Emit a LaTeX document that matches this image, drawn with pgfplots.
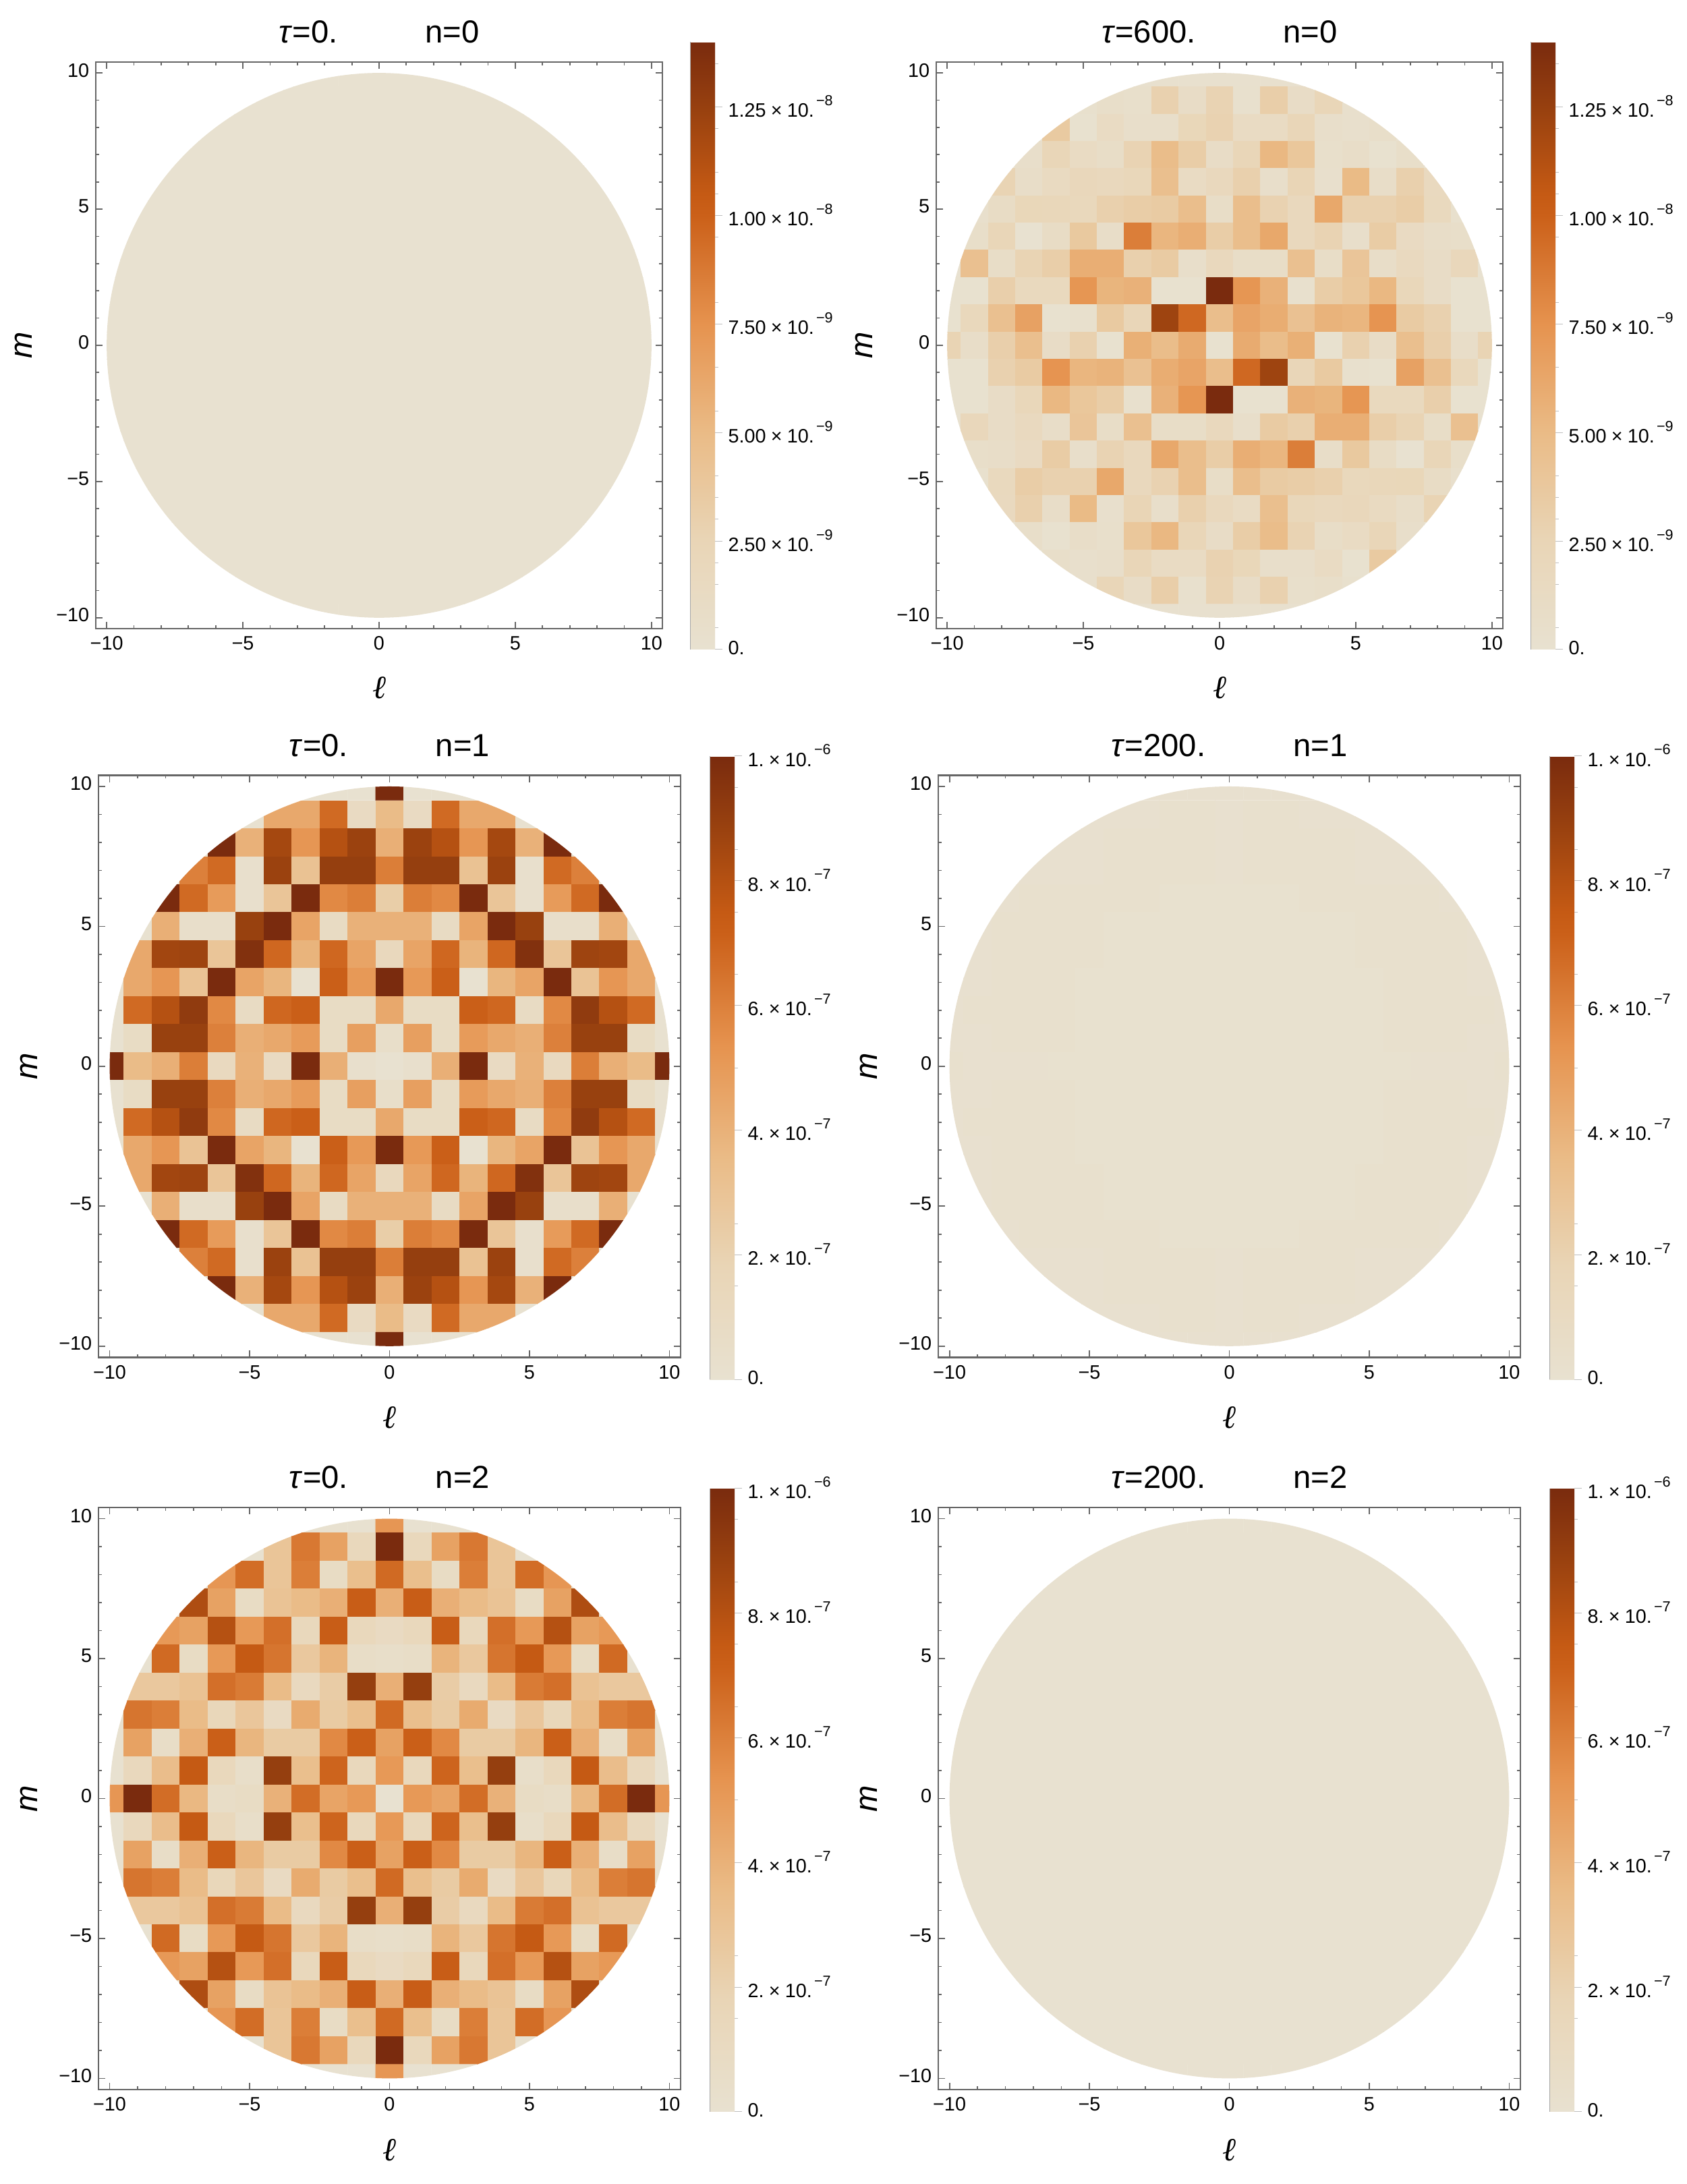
\documentclass[border=0pt]{standalone}
\usepackage{pgfplots}
\usepackage{pgfplotstable}
\usepackage{fontspec}
\setmainfont{Liberation Sans}
\newfontfamily\ser{Liberation Serif}
\pgfplotsset{compat=1.18}
\pgfplotsset{colormap={bro}{rgb255(0cm)=(232,225,208); rgb255(18cm)=(233,213,182); rgb255(35.7cm)=(234,187,134); rgb255(53.5cm)=(230,147,79); rgb255(71.4cm)=(203,96,25); rgb255(75cm)=(197,90,20); rgb255(89.3cm)=(151,64,15); rgb255(100cm)=(122,43,14)}}
\newcommand\ct[2]{#1\hspace{1.8pt}×\hspace{1.8pt}10.\hspace{.8pt}\raisebox{4.3pt}{\fontsize{5.4}{6}\selectfont −#2}}
\newcommand\zr{\raisebox{2pt}{0.}}
\pgfplotstableread[row sep=\\]{v\\
0\\0\\0\\0\\0\\0\\0\\0\\0\\0\\0\\0\\0\\0\\0\\0\\0\\0\\0\\0\\0\\
0\\0\\0\\0\\0\\0\\0\\0\\0\\0\\0\\0\\0\\0\\0\\0\\0\\0\\0\\0\\0\\
0\\0\\0\\0\\0\\0\\0\\0\\0\\0\\0\\0\\0\\0\\0\\0\\0\\0\\0\\0\\0\\
0\\0\\0\\0\\0\\0\\0\\0\\0\\0\\0\\0\\0\\0\\0\\0\\0\\0\\0\\0\\0\\
0\\0\\0\\0\\0\\0\\0\\0\\0\\0\\0\\0\\0\\0\\0\\0\\0\\0\\0\\0\\0\\
0\\0\\0\\0\\0\\0\\0\\0\\0\\0\\0\\0\\0\\0\\0\\0\\0\\0\\0\\0\\0\\
0\\0\\0\\0\\0\\0\\0\\0\\0\\0\\0\\0\\0\\0\\0\\0\\0\\0\\0\\0\\0\\
0\\0\\0\\0\\0\\0\\0\\0\\0\\0\\0\\0\\0\\0\\0\\0\\0\\0\\0\\0\\0\\
0\\0\\0\\0\\0\\0\\0\\0\\0\\0\\0\\0\\0\\0\\0\\0\\0\\0\\0\\0\\0\\
0\\0\\0\\0\\0\\0\\0\\0\\0\\0\\0\\0\\0\\0\\0\\0\\0\\0\\0\\0\\0\\
0\\0\\0\\0\\0\\0\\0\\0\\0\\0\\0\\0\\0\\0\\0\\0\\0\\0\\0\\0\\0\\
0\\0\\0\\0\\0\\0\\0\\0\\0\\0\\0\\0\\0\\0\\0\\0\\0\\0\\0\\0\\0\\
0\\0\\0\\0\\0\\0\\0\\0\\0\\0\\0\\0\\0\\0\\0\\0\\0\\0\\0\\0\\0\\
0\\0\\0\\0\\0\\0\\0\\0\\0\\0\\0\\0\\0\\0\\0\\0\\0\\0\\0\\0\\0\\
0\\0\\0\\0\\0\\0\\0\\0\\0\\0\\0\\0\\0\\0\\0\\0\\0\\0\\0\\0\\0\\
0\\0\\0\\0\\0\\0\\0\\0\\0\\0\\0\\0\\0\\0\\0\\0\\0\\0\\0\\0\\0\\
0\\0\\0\\0\\0\\0\\0\\0\\0\\0\\0\\0\\0\\0\\0\\0\\0\\0\\0\\0\\0\\
0\\0\\0\\0\\0\\0\\0\\0\\0\\0\\0\\0\\0\\0\\0\\0\\0\\0\\0\\0\\0\\
0\\0\\0\\0\\0\\0\\0\\0\\0\\0\\0\\0\\0\\0\\0\\0\\0\\0\\0\\0\\0\\
0\\0\\0\\0\\0\\0\\0\\0\\0\\0\\0\\0\\0\\0\\0\\0\\0\\0\\0\\0\\0\\
0\\0\\0\\0\\0\\0\\0\\0\\0\\0\\0\\0\\0\\0\\0\\0\\0\\0\\0\\0\\0\\
}\tabA
\pgfplotstableread[row sep=\\]{v\\
.2\\.2\\.2\\.2\\.2\\.2\\.2\\.2\\.2\\.2\\.2\\.2\\.2\\.2\\.2\\.2\\.2\\.2\\.2\\.2\\.2\\
0\\0\\0\\0\\0\\.3\\.7\\.5\\2.9\\1\\2.7\\.3\\3.2\\1\\2.3\\.4\\0\\0\\0\\0\\0\\
0\\0\\0\\0\\3.6\\.1\\1.3\\.6\\.6\\2.2\\2.8\\1.3\\1.3\\2.3\\.6\\.4\\.7\\0\\0\\0\\0\\
0\\0\\0\\.6\\2.3\\1.3\\.9\\2.7\\4.8\\3.3\\1\\2.3\\5.2\\3.9\\.5\\.8\\.1\\.7\\0\\0\\0\\
0\\0\\2.6\\.8\\1.5\\2\\1.8\\2.1\\4.6\\1.3\\1.8\\3\\.6\\2.5\\.4\\5\\.8\\3\\1.6\\0\\0\\
0\\.4\\1.1\\2.2\\2.1\\1.9\\3\\3.3\\3.5\\4.7\\.9\\4.7\\2.8\\1.8\\6.2\\2.9\\2.9\\3.3\\1.7\\.3\\0\\
0\\.7\\2.3\\0\\1.1\\3.7\\.8\\8.5\\5.3\\5.8\\3.3\\4.7\\6.2\\1.8\\2.7\\.6\\3.4\\1.4\\.8\\.7\\0\\
0\\4.5\\.9\\2.6\\3.2\\5.8\\5.8\\3\\3.5\\.6\\1.8\\.9\\.9\\4.5\\.9\\4\\.8\\1.6\\1\\2\\0\\
.1\\.1\\3.1\\1.7\\1.7\\7.3\\5.4\\5.6\\.1\\.1\\14\\7.3\\5.6\\.3\\3.3\\3.9\\5.2\\2.1\\1\\.1\\.1\\
.1\\1.9\\4.5\\6.6\\.1\\.3\\3.6\\2.3\\12.2\\9.6\\4.7\\6.4\\5.9\\4.4\\5.5\\5.3\\7.4\\3.5\\2.9\\.1\\.1\\
2.6\\.8\\3.1\\4.6\\1\\2.9\\.1\\5.7\\4.8\\6\\.1\\6\\4.8\\5.7\\.1\\2.9\\1\\4.6\\3.1\\.8\\2.6\\
.1\\.1\\2.9\\3.5\\7.4\\5.3\\5.5\\4.4\\5.9\\6.4\\4.7\\9.6\\12.2\\2.3\\3.6\\.3\\.1\\6.6\\4.5\\1.9\\.1\\
.1\\.1\\1\\2.1\\5.2\\3.9\\3.3\\.3\\5.6\\7.3\\14\\.1\\.1\\5.6\\5.4\\7.3\\1.7\\1.7\\3.1\\.1\\.1\\
0\\2\\1\\1.6\\.8\\4\\.9\\4.5\\.9\\.9\\1.8\\.6\\3.5\\3\\5.8\\5.8\\3.2\\2.6\\.9\\4.5\\0\\
0\\.7\\.8\\1.4\\3.4\\.6\\2.7\\1.8\\6.2\\4.7\\3.3\\5.8\\5.3\\8.5\\.8\\3.7\\1.1\\0\\2.3\\.7\\0\\
0\\.3\\1.7\\3.3\\2.9\\2.9\\6.2\\1.8\\2.8\\4.7\\.9\\4.7\\3.5\\3.3\\3\\1.9\\2.1\\2.2\\1.1\\.4\\0\\
0\\0\\1.6\\3\\.8\\5\\.4\\2.5\\.6\\3\\1.8\\1.3\\4.6\\2.1\\1.8\\2\\1.5\\.8\\2.6\\0\\0\\
0\\0\\0\\.7\\.1\\.8\\.5\\3.9\\5.2\\2.3\\1\\3.3\\4.8\\2.7\\.9\\1.3\\2.3\\.6\\0\\0\\0\\
0\\0\\0\\0\\.7\\.4\\.6\\2.3\\1.3\\1.3\\2.8\\2.2\\.6\\.6\\1.3\\.1\\3.6\\0\\0\\0\\0\\
0\\0\\0\\0\\0\\.4\\2.3\\1\\3.2\\.3\\2.7\\1\\2.9\\.5\\.7\\.3\\0\\0\\0\\0\\0\\
.2\\.2\\.2\\.2\\.2\\.2\\.2\\.2\\.2\\.2\\.2\\.2\\.2\\.2\\.2\\.2\\.2\\.2\\.2\\.2\\.2\\
}\tabB
\pgfplotstableread[row sep=\\]{v\\
0\\0\\0\\0\\0\\0\\0\\0\\0\\0\\10\\0\\0\\0\\0\\0\\0\\0\\0\\0\\0\\
0\\0\\0\\0\\0\\0\\4.4\\4.4\\6.8\\1\\3.5\\1\\6.8\\4.4\\4.4\\0\\0\\0\\0\\0\\0\\
0\\0\\0\\0\\10\\4\\8.5\\5.2\\8\\8.8\\4.1\\8.8\\8\\5.2\\8.5\\4\\10\\0\\0\\0\\0\\
0\\0\\0\\6\\6.8\\.3\\8.8\\3.1\\9\\9\\6.1\\9\\9\\3.1\\8.8\\.3\\6.8\\6\\0\\0\\0\\
0\\0\\10\\6.8\\5\\.3\\2.9\\10\\5.7\\6.1\\2.3\\6.1\\5.7\\10\\2.9\\.3\\5\\6.8\\10\\0\\0\\
0\\0\\4.1\\.4\\.4\\8.9\\10\\4.6\\.9\\4\\4\\4\\.9\\4.6\\10\\8.9\\.4\\.4\\4.1\\0\\0\\
0\\4.4\\8.6\\8.7\\2.9\\9.7\\6.9\\3.9\\6.9\\4.6\\1.3\\4.6\\6.9\\3.9\\6.9\\9.7\\2.9\\8.7\\8.6\\4.4\\0\\
0\\4.4\\5.2\\3\\10\\4.6\\3.8\\0\\7.2\\5.1\\10\\5.1\\7.2\\0\\3.8\\4.6\\10\\3\\5.2\\4.4\\0\\
0\\6.8\\8\\9.2\\5.7\\.9\\6.9\\7.2\\.8\\.8\\4.4\\.8\\.8\\7.2\\6.9\\.9\\5.7\\9.2\\8\\6.8\\0\\
0\\.8\\8.9\\8.9\\6\\4.1\\4.4\\5\\.8\\4.8\\.5\\4.8\\.8\\5\\4.4\\4.1\\6\\8.9\\8.9\\.8\\0\\
10\\3.5\\4.1\\6.1\\1.2\\4\\1\\10\\4.1\\.3\\0\\.3\\4.1\\10\\1\\4\\1.2\\6.1\\4.1\\3.5\\10\\
0\\.8\\8.9\\8.9\\6\\4.1\\4.4\\5\\.8\\4.8\\.5\\4.8\\.8\\5\\4.4\\4.1\\6\\8.9\\8.9\\.8\\0\\
0\\6.8\\8\\9.2\\5.7\\.9\\6.9\\7.2\\.8\\.8\\4.4\\.8\\.8\\7.2\\6.9\\.9\\5.7\\9.2\\8\\6.8\\0\\
0\\4.4\\5.2\\3\\10\\4.6\\3.8\\0\\7.2\\5.1\\10\\5.1\\7.2\\0\\3.8\\4.6\\10\\3\\5.2\\4.4\\0\\
0\\4.4\\8.6\\8.7\\2.9\\9.7\\6.9\\3.9\\6.9\\4.6\\1.3\\4.6\\6.9\\3.9\\6.9\\9.7\\2.9\\8.7\\8.6\\4.4\\0\\
0\\0\\4.1\\.4\\.4\\8.9\\10\\4.6\\.9\\4\\4\\4\\.9\\4.6\\10\\8.9\\.4\\.4\\4.1\\0\\0\\
0\\0\\10\\6.8\\5\\.3\\2.9\\10\\5.7\\6.1\\2.3\\6.1\\5.7\\10\\2.9\\.3\\5\\6.8\\10\\0\\0\\
0\\0\\0\\6\\6.8\\.3\\8.8\\3.1\\9\\9\\6.1\\9\\9\\3.1\\8.8\\.3\\6.8\\6\\0\\0\\0\\
0\\0\\0\\0\\10\\4\\8.5\\5.2\\8\\8.8\\4.1\\8.8\\8\\5.2\\8.5\\4\\10\\0\\0\\0\\0\\
0\\0\\0\\0\\0\\0\\4.4\\4.4\\6.8\\1\\3.5\\1\\6.8\\4.4\\4.4\\0\\0\\0\\0\\0\\0\\
0\\0\\0\\0\\0\\0\\0\\0\\0\\0\\10\\0\\0\\0\\0\\0\\0\\0\\0\\0\\0\\
}\tabC
\pgfplotstableread[row sep=\\]{v\\
.1\\.1\\.1\\.1\\.1\\.1\\.1\\.1\\.1\\.1\\.1\\.1\\.1\\.1\\.1\\.1\\.1\\.1\\.1\\.1\\.1\\
.1\\.1\\.1\\.1\\.1\\.1\\.1\\.1\\.2\\.2\\.1\\.2\\.2\\.1\\.1\\.1\\.1\\.1\\.1\\.1\\.1\\
.1\\.1\\.1\\.1\\.1\\.1\\.2\\.2\\.2\\.2\\.1\\.2\\.2\\.2\\.2\\.1\\.1\\.1\\.1\\.1\\.1\\
.1\\.1\\.1\\.1\\.1\\.1\\.2\\.2\\.2\\.2\\.1\\.2\\.2\\.2\\.2\\.1\\.1\\.1\\.1\\.1\\.1\\
.1\\.1\\.1\\.2\\.2\\.2\\.2\\.2\\.05\\.05\\.05\\.05\\.05\\.2\\.2\\.2\\.2\\.2\\.1\\.1\\.1\\
.1\\.1\\.2\\.2\\.2\\.2\\.05\\.05\\.05\\.05\\.05\\.05\\.05\\.05\\.05\\.2\\.2\\.2\\.2\\.1\\.1\\
.1\\.1\\.2\\.2\\.2\\.2\\.05\\.05\\.05\\.05\\.05\\.05\\.05\\.05\\.05\\.2\\.2\\.2\\.2\\.1\\.1\\
.1\\.1\\.2\\.2\\.2\\.05\\.05\\.05\\.05\\.05\\.05\\.05\\.05\\.05\\.05\\.05\\.2\\.2\\.2\\.1\\.1\\
.1\\.2\\.2\\.2\\.2\\.05\\.05\\.05\\.05\\.05\\.05\\.05\\.05\\.05\\.05\\.05\\.2\\.2\\.2\\.2\\.1\\
.1\\.1\\.2\\.2\\.2\\.05\\.05\\.05\\.05\\.05\\.05\\.05\\.05\\.05\\.05\\.05\\.2\\.2\\.2\\.1\\.1\\
.2\\.1\\.1\\.1\\.05\\.05\\.05\\.05\\.05\\.05\\.05\\.05\\.05\\.05\\.05\\.05\\.05\\.1\\.1\\.1\\.2\\
.1\\.1\\.2\\.2\\.2\\.05\\.05\\.05\\.05\\.05\\.05\\.05\\.05\\.05\\.05\\.05\\.2\\.2\\.2\\.1\\.1\\
.1\\.2\\.2\\.2\\.2\\.05\\.05\\.05\\.05\\.05\\.05\\.05\\.05\\.05\\.05\\.05\\.2\\.2\\.2\\.2\\.1\\
.1\\.1\\.2\\.2\\.2\\.05\\.05\\.05\\.05\\.05\\.05\\.05\\.05\\.05\\.05\\.05\\.2\\.2\\.2\\.1\\.1\\
.1\\.1\\.2\\.2\\.2\\.2\\.05\\.05\\.05\\.05\\.05\\.05\\.05\\.05\\.05\\.2\\.2\\.2\\.2\\.1\\.1\\
.1\\.1\\.2\\.2\\.2\\.2\\.05\\.05\\.05\\.05\\.05\\.05\\.05\\.05\\.05\\.2\\.2\\.2\\.2\\.1\\.1\\
.1\\.1\\.1\\.2\\.2\\.2\\.2\\.2\\.05\\.05\\.05\\.05\\.05\\.2\\.2\\.2\\.2\\.2\\.1\\.1\\.1\\
.1\\.1\\.1\\.1\\.1\\.1\\.2\\.2\\.2\\.2\\.1\\.2\\.2\\.2\\.2\\.1\\.1\\.1\\.1\\.1\\.1\\
.1\\.1\\.1\\.1\\.1\\.1\\.2\\.2\\.2\\.2\\.1\\.2\\.2\\.2\\.2\\.1\\.1\\.1\\.1\\.1\\.1\\
.1\\.1\\.1\\.1\\.1\\.1\\.1\\.1\\.2\\.2\\.1\\.2\\.2\\.1\\.1\\.1\\.1\\.1\\.1\\.1\\.1\\
.1\\.1\\.1\\.1\\.1\\.1\\.1\\.1\\.1\\.1\\.1\\.1\\.1\\.1\\.1\\.1\\.1\\.1\\.1\\.1\\.1\\
}\tabD
\pgfplotstableread[row sep=\\]{v\\
0\\0\\0\\0\\0\\0\\0\\0\\0\\0\\5.2\\0\\0\\0\\0\\0\\0\\0\\0\\0\\0\\
0\\0\\0\\0\\0\\0\\2.9\\6.3\\4.7\\1.4\\10\\1.4\\4.7\\6.3\\2.9\\0\\0\\0\\0\\0\\0\\
0\\0\\0\\0\\5.2\\6.7\\2.9\\6.1\\.8\\3.3\\6.8\\3.3\\.8\\6.1\\2.9\\6.7\\5.2\\0\\0\\0\\0\\
0\\0\\0\\8.2\\4.7\\.8\\3\\3.5\\4.1\\7.3\\4.1\\7.3\\4.1\\3.5\\3\\.8\\4.7\\8.2\\0\\0\\0\\
0\\0\\5.1\\4.7\\8\\5.1\\6.6\\1.4\\7.3\\1.4\\1\\1.4\\7.3\\1.4\\6.6\\5.1\\8\\4.7\\5.1\\0\\0\\
0\\0\\6.8\\.8\\5.1\\7.5\\6.4\\2.7\\3.9\\.6\\.5\\.6\\3.9\\2.7\\6.4\\7.5\\5.1\\.8\\6.8\\0\\0\\
0\\2.7\\2.7\\3.1\\6.6\\6.2\\3.5\\1.2\\2.4\\9\\4.1\\9\\2.4\\1.2\\3.5\\6.2\\6.6\\3.1\\2.7\\2.7\\0\\
0\\6.4\\6.1\\3.5\\1.5\\2.8\\1\\4.3\\2.5\\3.3\\6.8\\3.3\\2.5\\4.3\\1\\2.8\\1.5\\3.5\\6.1\\6.4\\0\\
0\\4.7\\.6\\4.1\\7.2\\3.8\\2.5\\2.5\\5.7\\7.2\\4.7\\7.2\\5.7\\2.5\\2.5\\3.8\\7.2\\4.1\\.6\\4.7\\0\\
0\\1.3\\3.4\\7.5\\1.4\\.5\\9\\3.3\\7\\1.4\\5.1\\1.4\\7\\3.3\\9\\.5\\1.4\\7.5\\3.4\\1.3\\0\\
5.2\\10\\6.7\\3.7\\.6\\.8\\4\\6.7\\4.6\\5.1\\0\\5.1\\4.6\\6.7\\4\\.8\\.6\\3.7\\6.7\\10\\5.2\\
0\\1.3\\3.4\\7.5\\1.4\\.5\\9\\3.3\\7\\1.4\\5.1\\1.4\\7\\3.3\\9\\.5\\1.4\\7.5\\3.4\\1.3\\0\\
0\\4.7\\.6\\4.1\\7.2\\3.8\\2.5\\2.5\\5.7\\7.2\\4.7\\7.2\\5.7\\2.5\\2.5\\3.8\\7.2\\4.1\\.6\\4.7\\0\\
0\\6.4\\6.1\\3.5\\1.5\\2.8\\1\\4.3\\2.5\\3.3\\6.8\\3.3\\2.5\\4.3\\1\\2.8\\1.5\\3.5\\6.1\\6.4\\0\\
0\\2.7\\2.7\\3.1\\6.6\\6.2\\3.5\\1.2\\2.4\\9\\4.1\\9\\2.4\\1.2\\3.5\\6.2\\6.6\\3.1\\2.7\\2.7\\0\\
0\\0\\6.8\\.8\\5.1\\7.5\\6.4\\2.7\\3.9\\.6\\.5\\.6\\3.9\\2.7\\6.4\\7.5\\5.1\\.8\\6.8\\0\\0\\
0\\0\\5.1\\4.7\\8\\5.1\\6.6\\1.4\\7.3\\1.4\\1\\1.4\\7.3\\1.4\\6.6\\5.1\\8\\4.7\\5.1\\0\\0\\
0\\0\\0\\8.2\\4.7\\.8\\3\\3.5\\4.1\\7.3\\4.1\\7.3\\4.1\\3.5\\3\\.8\\4.7\\8.2\\0\\0\\0\\
0\\0\\0\\0\\5.2\\6.7\\2.9\\6.1\\.8\\3.3\\6.8\\3.3\\.8\\6.1\\2.9\\6.7\\5.2\\0\\0\\0\\0\\
0\\0\\0\\0\\0\\0\\2.9\\6.3\\4.7\\1.4\\10\\1.4\\4.7\\6.3\\2.9\\0\\0\\0\\0\\0\\0\\
0\\0\\0\\0\\0\\0\\0\\0\\0\\0\\5.2\\0\\0\\0\\0\\0\\0\\0\\0\\0\\0\\
}\tabE
\pgfplotsset{
 panel/.style={
  scale only axis,width=#1pt,height=#1pt,
  xmin=-10.4,xmax=10.4,ymin=-10.4,ymax=10.4,
  axis on top,
  xtick={-10,-5,0,5,10},ytick={-10,-5,0,5,10},
  xticklabels={−10,−5,0,5,10},yticklabels={−10,−5,0,5,10},
  minor tick num=4,
  tick align=inside,
  major tick length=2.6pt,minor tick length=1.2pt,
  tick style={draw=black!60,line width=.45pt},
  axis line style={draw=black!60,line width=.58pt},
  tick label style={font=\fontsize{7.2}{8}\selectfont,black},
  x tick label style={inner ysep=2.75pt},
  y tick label style={inner xsep=2.25pt,yshift=1pt},
  xticklabel pos=bottom,yticklabel pos=left,
  colormap name=bro,
  title style={at={(0.5,1)},anchor=base,yshift=1pt,font=\fontsize{11.8}{13}\selectfont},
 },
 labs/.style={xlabel={{\ser\itshape ℓ}},ylabel={\textit{m}},
  xlabel style={at={(axis description cs:0.5,-.104)},anchor=center,font=\fontsize{12}{13}\selectfont},
  ylabel style={at={(axis description cs:#1,0.5)},anchor=center,font=\fontsize{11.8}{13}\selectfont}},
 cb/.style n args={4}{
  colorbar,point meta min=0,point meta max=#1,
  colorbar style={
   at={(parent axis.south east)},anchor=south west,xshift=#2pt,yshift=#3pt,
   scale only axis,width=9.25pt,height=#4pt,
   axis line style={draw=none},
   tick align=outside,ytick pos=right,yticklabel pos=right,
   major tick length=2.75pt,minor tick length=1.25pt,
   tick style={draw=black!25,line width=.25pt},
   y tick label style={font=\fontsize{7.2}{8}\selectfont,anchor=base west,yshift=-3.8pt,xshift=1.9pt,inner xsep=0pt,inner ysep=0pt},
   extra description/.code={\draw[black!35,line width=.3pt] (0,0)--(0,1);},
  },
 },
 cbn/.style={colorbar style={ytick={0,2.5,5,7.5,10,12.5},
   yticklabels={\zr,\ct{2.50}{9},\ct{5.00}{9},\ct{7.50}{9},\ct{1.00}{8},\ct{1.25}{8}},
   minor ytick={.5,1.5,2,3,3.5,4,5.5,6.5,8,9.5,10.5,11,12,13.5}}},
 cbm/.style={colorbar style={ytick={0,2,4,6,8,10},
   yticklabels={\zr,\ct{2.}{7},\ct{4.}{7},\ct{6.}{7},\ct{8.}{7},\ct{1.}{6}},
   minor ytick={1.5,2.5,5,6.5,7.5,8.5,9.5}}},
 cell/.style={matrix plot*,mesh/cols=21,point meta=explicit,shader=faceted,faceted color=mapped color,line width=.1pt},
}
\newcommand\cells[1]{\clip (axis cs:0,0) circle [radius=10];
 \addplot[cell] table[x index=0,y index=0,x expr={mod(\coordindex,21)-10},y expr={10-floor((\coordindex+0.5)/21)},meta=v]{#1};}
\begin{document}
\begin{tikzpicture}
\path[use as bounding box] (0,0) rectangle (625.25pt,809.5pt);
\begin{axis}[at={(35.5pt,576.5pt)},anchor=south west,panel=210,title={\textit{τ}=0.\hspace{32.5pt}n=0},labs=-.1274,cb={14}{1.75}{-7.75}{225.25},cbn]
\cells{\tabA}
\end{axis}
\begin{axis}[at={(347pt,576.5pt)},anchor=south west,panel=210,title={\textit{τ}=600.\hspace{32.5pt}n=0},labs=-.1274,cb={14}{1.75}{-7.75}{225.25},cbn]
\cells{\tabB}
\end{axis}
\begin{axis}[at={(36.5pt,306.4pt)},anchor=south west,panel=215.75,title={\textit{τ}=0.\hspace{32.5pt}n=1},labs=-.1195,cb={10}{2.25}{-8.25}{231.1},cbm]
\cells{\tabC}
\end{axis}
\begin{axis}[at={(347.75pt,306.4pt)},anchor=south west,panel=215.75,title={\textit{τ}=200.\hspace{32.5pt}n=1},labs=-.1195,cb={10}{2.25}{-8.25}{231.1},cbm]
\cells{\tabD}
\end{axis}
\begin{axis}[at={(36.5pt,35pt)},anchor=south west,panel=215.75,title={\textit{τ}=0.\hspace{32.5pt}n=2},labs=-.1195,cb={10}{2.25}{-8.25}{231.1},cbm]
\cells{\tabE}
\end{axis}
\begin{axis}[at={(347.75pt,35pt)},anchor=south west,panel=215.75,title={\textit{τ}=200.\hspace{32.5pt}n=2},labs=-.1195,cb={10}{2.25}{-8.25}{231.1},cbm]
\cells{\tabA}
\end{axis}
\end{tikzpicture}
\end{document}
